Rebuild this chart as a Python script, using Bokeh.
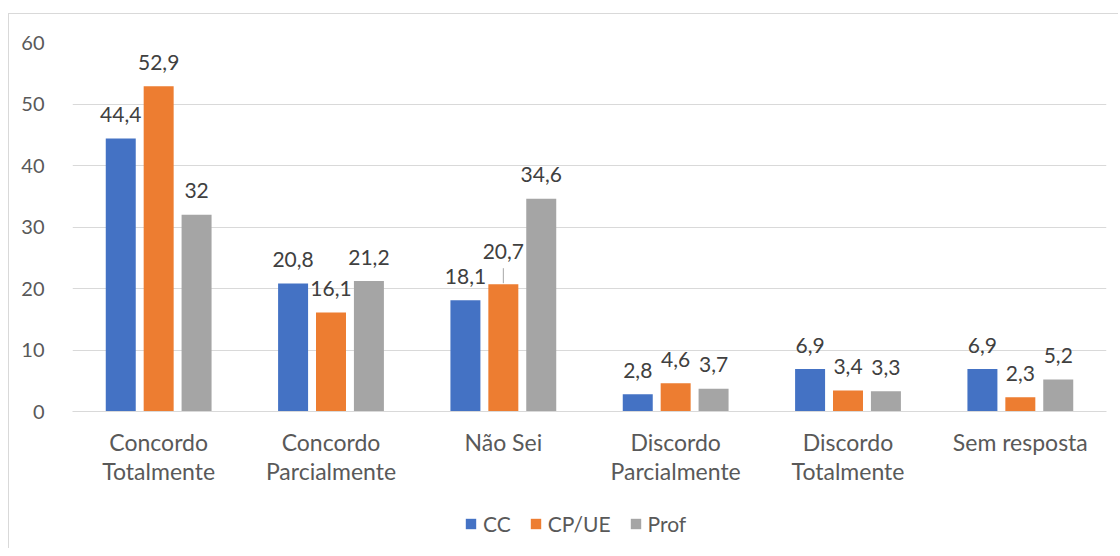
from bokeh.plotting import figure
from bokeh.models import ColumnDataSource, FactorRange, Range1d, Legend, LegendItem, FixedTicker
from bokeh.transform import dodge
from bokeh.layouts import column
from bokeh.embed import file_html
from bokeh.resources import INLINE
from bokeh.core.properties import value

categories = ["Concordo\nTotalmente", "Concordo\nParcialmente", "Não Sei",
              "Discordo\nParcialmente", "Discordo\nTotalmente", "Sem resposta"]
series_names = ["CC", "CP/UE", "Prof"]
cc = [44.4, 20.8, 18.1, 2.8, 6.9, 6.9]
cp_ue = [52.9, 16.1, 20.7, 4.6, 3.4, 2.3]
prof = [32.0, 21.2, 34.6, 3.7, 3.3, 5.2]
y_ticks = [0, 10, 20, 30, 40, 50, 60]

colors = ["#4472C4", "#ED7D31", "#A5A5A5"]
FONT = "Lato"
BORDER = "1px solid #d9d9d9"

def fmt(v):
    s = ("%.1f" % v).rstrip("0").rstrip(".")
    return s.replace(".", ",")

W = 1110
H_MAIN, H_LEG = 490, 45
ML, MT, MR = 63, 28, 13
FRAME_H = 369

p = figure(x_range=FactorRange(*categories, range_padding=0),
           y_range=Range1d(0, 60),
           width=W, height=H_MAIN, output_backend="svg", toolbar_location=None,
           min_border_left=ML, min_border_right=MR, min_border_top=MT,
           min_border_bottom=H_MAIN - MT - FRAME_H)
p.styles = {"margin-left": "8px", "margin-top": "13px",
            "border-left": BORDER, "border-top": BORDER}
p.outline_line_color = None
p.background_fill_color = "white"
p.border_fill_color = "white"

source = ColumnDataSource(dict(cat=categories, CC=cc, CPUE=cp_ue, Prof=prof,
                               CC_l=[fmt(v) for v in cc],
                               CPUE_l=[fmt(v) for v in cp_ue],
                               Prof_l=[fmt(v) for v in prof]))

offsets = [-0.22, 0.0, 0.22]
cols = ["CC", "CPUE", "Prof"]
for col, off, c in zip(cols, offsets, colors):
    p.vbar(x=dodge("cat", off, range=p.x_range), top=col, width=0.174,
           source=source, fill_color=c, line_color=None)

# data labels
px_per_unit = FRAME_H / 60.0
for col, off in zip(cols, offsets):
    vals = source.data[col]
    lifts = [-24] * len(vals)
    if col == "CPUE":
        lifts[2] = -33
    src = ColumnDataSource(dict(cat=categories, v=vals, t=source.data[col + "_l"], yo=lifts))
    p.text(x=dodge("cat", off, range=p.x_range), y="v", text="t", y_offset="yo",
           source=src, text_align="center", text_baseline="middle",
           text_font=value(FONT), text_font_size="21px", text_color="#404040")

# leader line for the lifted label
v = cp_ue[2]
p.segment(x0=[(categories[2], 0.0)], x1=[(categories[2], 0.0)],
          y0=[v + 1 / px_per_unit], y1=[v + 16 / px_per_unit],
          line_color="#a6a6a6", line_width=1)

p.xgrid.grid_line_color = None
p.ygrid.grid_line_color = "#d9d9d9"
p.ygrid.grid_line_width = 1
p.yaxis.ticker = FixedTicker(ticks=y_ticks)
p.yaxis.axis_line_color = None
p.yaxis.major_tick_line_color = None
p.yaxis.minor_tick_line_color = None
p.yaxis.major_label_standoff = 22
p.yaxis.major_label_text_font = FONT
p.yaxis.major_label_text_font_size = "20px"
p.yaxis.major_label_text_color = "#595959"

p.xaxis.axis_line_color = "#d9d9d9"
p.xaxis.major_tick_line_color = None
p.xaxis.minor_tick_line_color = None
p.xaxis.major_label_standoff = 10
p.xaxis.major_label_text_font = FONT
p.xaxis.major_label_text_font_size = "23px"
p.xaxis.major_label_text_color = "#595959"
p.xaxis.major_label_text_line_height = 1.05

# legend strip below the chart (swatch renderers sit outside the visible range)
leg = figure(width=W, height=H_LEG, x_range=Range1d(0, 1), y_range=Range1d(0, 1),
             output_backend="svg", toolbar_location=None, min_border=0,
             x_axis_location=None, y_axis_location=None)
leg.styles = {"margin-left": "8px", "border-left": BORDER}
leg.outline_line_color = None
leg.grid.grid_line_color = None
leg_renderers = [leg.vbar(x=[-5], top=[-5], bottom=[-6], width=0.1, fill_color=c, line_color=None)
                 for c in colors]
legend = Legend(items=[LegendItem(label=n, renderers=[r]) for n, r in zip(series_names, leg_renderers)],
                orientation="horizontal", location=(392, 12),
                padding=0, margin=0, spacing=18, label_standoff=6,
                glyph_width=13, glyph_height=13,
                label_text_font=FONT, label_text_font_size="21px",
                label_text_color="#595959", border_line_color=None,
                background_fill_alpha=0)
leg.add_layout(legend, "center")

layout = column(p, leg, spacing=0)
open("out.html", "w").write(file_html(layout, INLINE))
